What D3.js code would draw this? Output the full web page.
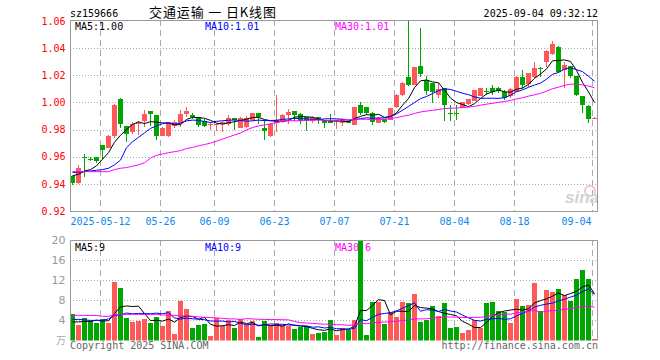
<!DOCTYPE html>
<html>
<head>
<meta charset="utf-8">
<script src="https://cdnjs.cloudflare.com/ajax/libs/d3/7.8.5/d3.min.js"></script>
<style>
    body { margin: 0; background: #fff; }
    text { font-family: "DejaVu Sans Mono", monospace; font-size: 10px; }
</style>
</head>
<body>
<div id="chart"></div>
<script>

const dates = ["2025-04-30","2025-05-06","2025-05-07","2025-05-08","2025-05-09","2025-05-12","2025-05-13","2025-05-14","2025-05-15","2025-05-16",
    "2025-05-19","2025-05-20","2025-05-21","2025-05-22","2025-05-23","2025-05-26","2025-05-27","2025-05-28","2025-05-29","2025-05-30",
    "2025-06-03","2025-06-04","2025-06-05","2025-06-06","2025-06-09","2025-06-10","2025-06-11","2025-06-12","2025-06-13","2025-06-16",
    "2025-06-17","2025-06-18","2025-06-19","2025-06-20","2025-06-23","2025-06-24","2025-06-25","2025-06-26","2025-06-27","2025-06-30",
    "2025-07-01","2025-07-02","2025-07-03","2025-07-04","2025-07-07","2025-07-08","2025-07-09","2025-07-10","2025-07-11","2025-07-14",
    "2025-07-15","2025-07-16","2025-07-17","2025-07-18","2025-07-21","2025-07-22","2025-07-23","2025-07-24","2025-07-25","2025-07-28",
    "2025-07-29","2025-07-30","2025-07-31","2025-08-01","2025-08-04","2025-08-05","2025-08-06","2025-08-07","2025-08-08","2025-08-11",
    "2025-08-12","2025-08-13","2025-08-14","2025-08-15","2025-08-18","2025-08-19","2025-08-20","2025-08-21","2025-08-22","2025-08-25",
    "2025-08-26","2025-08-27","2025-08-28","2025-08-29","2025-09-01","2025-09-02","2025-09-03","2025-09-04"];

const open = [0.946, 0.9405, 0.960, 0.9585, 0.9595, 0.9683, 0.9666, 0.975, 1.0025, 0.983,
    0.978, 0.984, 0.9861, 0.9937, 0.991, 0.975, 0.975, 0.983, 0.9845, 0.9915,
    0.991, 0.9896, 0.986, 0.9835, 0.9835, 0.9838, 0.9843, 0.9886, 0.9815, 0.982,
    0.9867, 0.9919, 0.981, 0.9755, 0.9847, 0.9862, 0.991, 0.9938, 0.9917, 0.989,
    0.9862, 0.989, 0.9867, 0.9862, 0.9858, 0.9852, 0.9862, 0.9835, 0.998, 0.9965,
    0.992, 0.9852, 0.9877, 0.9871, 0.9965, 1.0055, 1.0185, 1.013, 1.0271, 1.0166,
    1.0141, 1.0055, 1.0105, 0.9922, 0.9922, 0.9962, 0.9985, 1.0014, 1.0049, 1.0087,
    1.0105, 1.0105, 1.008, 1.0044, 1.008, 1.019, 1.0134, 1.019, 1.0255, 1.030,
    1.0357, 1.041, 1.024, 1.0269, 1.0195, 1.0048, 0.9975, 0.9882];

const high = [0.946, 0.9536, 0.962, 0.9597, 0.9597, 0.9685, 0.976, 0.999, 1.0035, 0.983,
    0.9858, 0.9865, 0.9946, 0.9937, 0.991, 0.982, 0.985, 0.987, 0.9945, 0.997,
    0.9925, 0.9896, 0.988, 0.985, 0.985, 0.986, 0.991, 0.9886, 0.9895, 0.990,
    0.9925, 0.992, 0.987, 0.9845, 1.0055, 0.9915, 0.995, 0.994, 0.992, 0.989,
    0.990, 0.989, 0.9867, 0.9917, 0.987, 0.9885, 0.9865, 0.997, 1.000, 0.9965,
    0.9933, 0.989, 0.988, 0.996, 1.006, 1.015, 1.060, 1.026, 1.0545, 1.0195,
    1.0145, 1.0141, 1.0105, 0.998, 0.998, 1.0005, 1.0026, 1.0092, 1.011, 1.011,
    1.013, 1.0117, 1.0093, 1.0105, 1.0195, 1.024, 1.022, 1.0296, 1.026, 1.0385,
    1.0453, 1.0415, 1.0296, 1.027, 1.0195, 1.0048, 0.9982, 0.989];

const low = [0.939, 0.940, 0.945, 0.9568, 0.9553, 0.958, 0.9665, 0.974, 0.9815, 0.971,
    0.977, 0.976, 0.9822, 0.9827, 0.9725, 0.975, 0.9745, 0.981, 0.9822, 0.989,
    0.988, 0.982, 0.982, 0.980, 0.979, 0.978, 0.9826, 0.980, 0.981, 0.981,
    0.986, 0.9838, 0.9725, 0.9745, 0.978, 0.985, 0.9838, 0.9862, 0.9838, 0.9786,
    0.985, 0.9838, 0.981, 0.985, 0.9805, 0.983, 0.9845, 0.9832, 0.9908, 0.991,
    0.9835, 0.985, 0.9852, 0.987, 0.996, 1.005, 1.012, 1.0125, 1.019, 1.0055,
    0.9994, 1.0031, 0.986, 0.986, 0.987, 0.996, 0.998, 1.0008, 1.0045, 1.0056,
    1.0056, 1.0068, 1.0019, 1.0031, 1.0075, 1.0097, 1.0117, 1.0178, 1.019, 1.0264,
    1.035, 1.022, 1.0105, 1.0178, 1.0044, 0.992, 0.9852, 0.9878];

const close = [0.941, 0.9514, 0.9595, 0.958, 0.9566, 0.9651, 0.9756, 0.998, 0.984, 0.977,
    0.9844, 0.985, 0.9917, 0.9912, 0.975, 0.9815, 0.9845, 0.9855, 0.9915, 0.994,
    0.9896, 0.9835, 0.983, 0.9838, 0.984, 0.9855, 0.9886, 0.9869, 0.9886, 0.9886,
    0.9919, 0.989, 0.979, 0.984, 0.987, 0.991, 0.9926, 0.991, 0.9862, 0.9862,
    0.989, 0.9869, 0.985, 0.985, 0.9862, 0.9877, 0.9852, 0.9969, 0.9925, 0.9925,
    0.9859, 0.9884, 0.9857, 0.9956, 1.0055, 1.0145, 1.013, 1.0258, 1.0208, 1.0085,
    1.0075, 1.010, 0.9982, 0.992, 0.992, 1.0001, 1.0022, 1.0092, 1.011, 1.0085,
    1.008, 1.0085, 1.0031, 1.0097, 1.019, 1.013, 1.0215, 1.0257, 1.0252, 1.038,
    1.043, 1.0227, 1.0276, 1.0195, 1.0056, 0.9982, 0.9877, 0.9888];

// 万
const volume = [5.3, 3.1, 4.5, 3.9, 3.5, 4.3, 3.5, 11.7, 10.4, 4.5,
    3.7, 3.9, 4.3, 3.5, 4.7, 2.9, 5.9, 1.3, 7.9, 6.3,
    2.5, 3.1, 3.3, 0.9, 4.5, 2.9, 4.1, 2.5, 4.3, 3.1,
    3.9, 0.7, 3.9, 3.1, 3.5, 3.1, 2.9, 2.3, 2.7, 2.9,
    1.3, 1.5, 1.7, 4.1, 1.1, 2.5, 2.1, 4.1, 20.0, 1.1,
    7.7, 7.7, 3.3, 5.7, 4.7, 7.7, 7.5, 9.2, 3.7, 4.1,
    6.9, 4.9, 7.5, 2.5, 2.7, 1.5, 2.1, 4.1, 2.5, 7.5,
    7.7, 5.9, 5.7, 3.5, 8.3, 6.9, 7.1, 11.5, 5.9, 10.0,
    9.6, 10.2, 9.0, 7.9, 12.2, 14.0, 12.2, 0.3];

// MA values of the first days (the window reaches back before the chart)
const ma5Head = [0.946, 0.947, 0.9495, 0.9505];
const ma10Head = [0.9485, 0.9485, 0.949, 0.9495, 0.950, 0.9505, 0.9515, 0.954, 0.9575];
const ma30Head = [0.949, 0.949, 0.949, 0.949, 0.949, 0.949, 0.949, 0.9505, 0.9515, 0.952,
    0.953, 0.954, 0.9555, 0.959, 0.961, 0.962, 0.963, 0.9637, 0.9645, 0.966,
    0.9668, 0.968, 0.969, 0.970, 0.9715, 0.973, 0.9745, 0.976, 0.9775];
const vma5Head = [3.7, 3.7, 3.8, 3.8];
const vma10Head = [4.2, 4.2, 4.1, 4.0, 4.0, 4.0, 4.3, 5.0, 5.1];
const vma30Head = [5.0, 5.0, 5.0, 5.0, 5.0, 4.8, 4.8, 5.1, 5.2, 5.2,
    5.2, 5.2, 5.2, 5.2, 5.2, 5.1, 5.0, 5.0, 4.9, 4.9,
    4.8, 4.7, 4.6, 4.6, 4.5, 4.4, 4.3, 4.3, 4.2];

const tickDates = ["2025-05-12","2025-05-26","2025-06-09","2025-06-23","2025-07-07","2025-07-21","2025-08-04","2025-08-18","2025-09-04"];
const tickLabels = ["2025-05-12","05-26","06-09","06-23","07-07","07-21","08-04","08-18","09-04"];
const priceTicks = [0.92, 0.94, 0.96, 0.98, 1.00, 1.02, 1.04, 1.06];
const volTicks = [4, 8, 12, 16, 20];

const maLabels = ["MA5:1.00", "MA10:1.01", "MA30:1.01"];
const volMaLabels = ["MA5:9", "MA10:9", "MA30:6"];
const maColors = ["#000000", "#0000ff", "#ff00ff"];

const RED = "#ff5858", GREEN = "#00a600";

function movingAvg(values, n, head) {
    return values.map(function (v, i) {
        if (i < n - 1) return head[i];
        return d3.mean(values.slice(i - n + 1, i + 1));
    });
}

const data = dates.map(function (d, i) {
    return {date: d, open: open[i], high: high[i], low: low[i], close: close[i], volume: volume[i]};
});

const priceMA = [movingAvg(close, 5, ma5Head), movingAvg(close, 10, ma10Head), movingAvg(close, 30, ma30Head)];
const volMA = [movingAvg(volume, 5, vma5Head), movingAvg(volume, 10, vma10Head), movingAvg(volume, 30, vma30Head)];

const left = 70, right = 598;
const pTop = 20, pBottom = 211;
const vTop = 240, vBottom = 340.5;

const svg = d3.select("#chart").append("svg")
    .attr("width", 660)
    .attr("height", 360);

const xScale = d3.scaleBand()
    .domain(dates)
    .range([left, right])
    .paddingInner(1 / 6)
    .paddingOuter(1 / 12)
    .align(0);

const yScale = d3.scaleLinear().domain([0.92, 1.06]).range([pBottom, 21]);
const vScale = d3.scaleLinear().domain([0, 20]).range([vBottom, vTop]);

const bw = xScale.bandwidth();
const cx = function (d) { return xScale(d) + bw / 2; };

svg.append("clipPath").attr("id", "clip-price")
    .append("rect").attr("x", left).attr("y", pTop).attr("width", right - left).attr("height", pBottom - pTop);
svg.append("clipPath").attr("id", "clip-vol")
    .append("rect").attr("x", left).attr("y", vTop).attr("width", right - left).attr("height", vBottom - vTop);

/* header */
svg.append("text").attr("x", 70).attr("y", 17).text("sz159666");
svg.append("text")
    .attr("x", 149).attr("y", 17)
    .attr("textLength", 127)
    .attr("lengthAdjust", "spacing")
    .style("font-family", "'Noto Sans CJK SC', sans-serif")
    .style("font-size", "13px")
    .text("交通运输 一 日K线图");
svg.append("text").attr("x", 598).attr("y", 17).attr("text-anchor", "end").text("2025-09-04 09:32:12");

/* grids */
function grid(g, top, bottom, scale, ticks) {
    g.selectAll(".hgrid").data(ticks).enter().append("line")
        .attr("x1", left).attr("x2", right)
        .attr("y1", function (d) { return Math.round(scale(d)) + 0.5; })
        .attr("y2", function (d) { return Math.round(scale(d)) + 0.5; })
        .attr("stroke", "#aaaaaa")
        .attr("stroke-dasharray", "1,2");
    g.selectAll(".vgrid").data(tickDates).enter().append("line")
        .attr("x1", function (d) { return xScale(d) + 0.5; })
        .attr("x2", function (d) { return xScale(d) + 0.5; })
        .attr("y1", top).attr("y2", bottom)
        .attr("stroke", "#aaaaaa")
        .attr("stroke-dasharray", "6,4");
}

const priceG = svg.append("g");
grid(priceG, pTop, pBottom, yScale, priceTicks.slice(1, -1));
const volG = svg.append("g");
grid(volG, vTop, vBottom, vScale, volTicks.slice(0, -1));

/* axes */
const yAxis = svg.append("g")
    .attr("transform", "translate(" + left + ",0)")
    .call(d3.axisLeft(yScale).tickValues(priceTicks).tickSize(0).tickPadding(4.5).tickFormat(d3.format(".2f")));
yAxis.select(".domain").remove();
yAxis.selectAll("text").attr("fill", "#ff0000").style("font-family", "'DejaVu Sans Mono', monospace").style("font-size", "10px");

const vAxis = svg.append("g")
    .attr("transform", "translate(" + left + ",0)")
    .call(d3.axisLeft(vScale).tickValues(volTicks).tickSize(0).tickPadding(4.5));
vAxis.select(".domain").remove();
vAxis.selectAll("text").attr("fill", "#999999").style("font-family", "'DejaVu Sans', sans-serif").style("font-size", "11px");
svg.append("text").attr("x", 66).attr("y", 344).attr("text-anchor", "end")
    .attr("fill", "#aaaaaa").style("font-family", "'Noto Sans CJK SC', sans-serif").style("font-size", "10px")
    .text("万");

svg.selectAll(".date-label").data(tickDates).enter().append("text")
    .attr("class", "date-label")
    .attr("x", function (d, i) { return i === tickDates.length - 1 ? xScale(d) - 0.5 : xScale(d) + 0.5; })
    .attr("y", 225)
    .attr("text-anchor", function (d, i) { return i === tickDates.length - 1 ? "end" : "middle"; })
    .attr("fill", "#0a88f0")
    .text(function (d, i) { return tickLabels[i]; });

/* MA legends */
svg.selectAll(".ma-label").data(maLabels).enter().append("text")
    .attr("x", function (d, i) { return 75 + i * 130; })
    .attr("y", 29.5)
    .attr("fill", function (d, i) { return maColors[i]; })
    .text(function (d) { return d; });
svg.selectAll(".vma-label").data(volMaLabels).enter().append("text")
    .attr("x", function (d, i) { return 75 + i * 130; })
    .attr("y", 250.5)
    .attr("fill", function (d, i) { return maColors[i]; })
    .text(function (d) { return d; });

/* sina watermark */
svg.append("circle").attr("cx", 590).attr("cy", 191).attr("r", 5)
    .attr("fill", "none").attr("stroke", "#f3c4c4").attr("stroke-width", 2);
svg.append("text").attr("x", 582).attr("y", 203).attr("text-anchor", "middle")
    .style("font-family", "'Liberation Sans', sans-serif").style("font-size", "17px")
    .style("font-weight", "bold").style("font-style", "italic")
    .attr("fill", "#d2d2d2").text("sina");

/* candles */
const candles = svg.append("g").attr("clip-path", "url(#clip-price)")
    .attr("shape-rendering", "crispEdges")
    .selectAll(".candle").data(data).enter().append("g");

candles.append("line")
    .attr("x1", function (d) { return cx(d.date); })
    .attr("x2", function (d) { return cx(d.date); })
    .attr("y1", function (d) { return yScale(d.high); })
    .attr("y2", function (d) { return yScale(d.low); })
    .attr("stroke", function (d) { return d.close >= d.open ? RED : GREEN; });

candles.append("rect")
    .attr("x", function (d) { return xScale(d.date); })
    .attr("width", bw)
    .attr("y", function (d) { return yScale(Math.max(d.open, d.close)); })
    .attr("height", function (d) { return Math.max(1, Math.abs(yScale(d.open) - yScale(d.close))); })
    .attr("fill", function (d) { return d.close >= d.open ? RED : GREEN; });

/* volume bars */
svg.append("g").attr("clip-path", "url(#clip-vol)")
    .attr("shape-rendering", "crispEdges")
    .selectAll(".vol").data(data).enter().append("rect")
    .attr("x", function (d) { return xScale(d.date); })
    .attr("width", bw)
    .attr("y", function (d) { return vScale(d.volume); })
    .attr("height", function (d) { return vBottom - vScale(d.volume); })
    .attr("fill", function (d) { return d.close >= d.open ? RED : GREEN; });

/* MA lines */
priceMA.forEach(function (series, k) {
    svg.append("path")
        .attr("clip-path", "url(#clip-price)")
        .attr("fill", "none")
        .attr("stroke", maColors[k])
        .attr("stroke-width", 1)
        .attr("d", d3.line()
            .x(function (d, i) { return cx(dates[i]); })
            .y(function (d) { return yScale(d); })(series));
});
volMA.forEach(function (series, k) {
    svg.append("path")
        .attr("clip-path", "url(#clip-vol)")
        .attr("fill", "none")
        .attr("stroke", maColors[k])
        .attr("stroke-width", 1)
        .attr("d", d3.line()
            .x(function (d, i) { return cx(dates[i]); })
            .y(function (d) { return vScale(d); })(series));
});

/* borders */
svg.append("rect").attr("x", left + 0.5).attr("y", pTop + 0.5)
    .attr("width", right - left - 1).attr("height", pBottom - pTop)
    .attr("fill", "none").attr("stroke", "#999999");
svg.append("path")
    .attr("d", "M" + (left + 0.5) + "," + vBottom + "V" + (vTop + 0.5) + "H" + (right - 0.5) + "V" + vBottom)
    .attr("fill", "none").attr("stroke", "#999999");

/* footer */
svg.append("text").attr("x", 70).attr("y", 349).attr("fill", "#666666").text("Copyright 2025 SINA.COM");
svg.append("text").attr("x", 598).attr("y", 349).attr("text-anchor", "end").attr("fill", "#666666").text("http://finance.sina.com.cn");

</script>
</body>
</html>
